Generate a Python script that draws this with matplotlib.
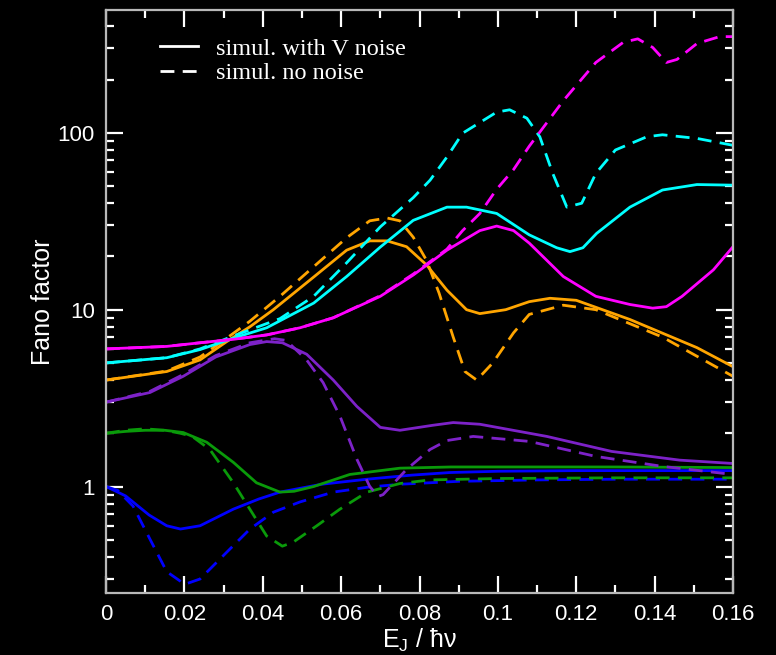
import matplotlib
matplotlib.use("Agg")
import matplotlib.pyplot as plt
from matplotlib.lines import Line2D
from matplotlib.ticker import LogLocator, FixedLocator, NullFormatter, MultipleLocator

# ---------------- data ----------------
blue_sol_x = [0, 0.005, 0.011, 0.0155, 0.019, 0.024, 0.0325, 0.039, 0.0444, 0.055, 0.0666, 0.078, 0.0878, 0.10, 0.12, 0.14, 0.16]
blue_sol_y = [1.0, 0.885, 0.69, 0.60, 0.575, 0.60, 0.745, 0.85, 0.93, 1.03, 1.10, 1.16, 1.20, 1.22, 1.23, 1.23, 1.23]
blue_dash_x = [0, 0.003, 0.0069, 0.0112, 0.0155, 0.0201, 0.024, 0.0308, 0.0367, 0.0427, 0.0495, 0.058, 0.0666, 0.075, 0.09, 0.11, 0.13, 0.16]
blue_dash_y = [1.0, 0.95, 0.775, 0.505, 0.33, 0.28, 0.30, 0.425, 0.574, 0.716, 0.818, 0.93, 0.99, 1.03, 1.07, 1.09, 1.10, 1.10]

green_sol_x = [0, 0.005, 0.01, 0.015, 0.0197, 0.0257, 0.0325, 0.0384, 0.0444, 0.048, 0.053, 0.0622, 0.075, 0.088, 0.10, 0.13, 0.16]
green_sol_y = [2.0, 2.05, 2.08, 2.08, 2.02, 1.78, 1.37, 1.05, 0.93, 0.94, 1.0, 1.17, 1.27, 1.29, 1.29, 1.29, 1.28]
green_dash_x = [0, 0.005, 0.01, 0.015, 0.019, 0.022, 0.0265, 0.0325, 0.0367, 0.041, 0.045, 0.0478, 0.0538, 0.0597, 0.0666, 0.075, 0.0827, 0.10, 0.13, 0.16]
green_dash_y = [2.0, 2.08, 2.12, 2.08, 2.0, 1.92, 1.62, 1.05, 0.745, 0.525, 0.46, 0.485, 0.60, 0.745, 0.93, 1.04, 1.09, 1.11, 1.12, 1.12]

purple_sol_x = [0, 0.0112, 0.0197, 0.028, 0.0367, 0.041, 0.045, 0.0512, 0.058, 0.064, 0.07, 0.075, 0.0834, 0.0886, 0.0954, 0.1125, 0.129, 0.1464, 0.16]
purple_sol_y = [3.0, 3.4, 4.2, 5.4, 6.35, 6.6, 6.5, 5.6, 4.0, 2.84, 2.16, 2.08, 2.22, 2.3, 2.25, 1.92, 1.58, 1.41, 1.35]
purple_dash_x = [0, 0.0112, 0.0197, 0.028, 0.0367, 0.043, 0.046, 0.0512, 0.0554, 0.0597, 0.064, 0.0673, 0.0695, 0.0707, 0.0767, 0.0827, 0.087, 0.0937, 0.108, 0.125, 0.142, 0.16]
purple_dash_y = [3.0, 3.45, 4.3, 5.5, 6.5, 6.85, 6.7, 5.2, 3.87, 2.5, 1.43, 1.0, 0.88, 0.9, 1.25, 1.62, 1.82, 1.92, 1.8, 1.48, 1.30, 1.17]

orange_sol_x = [0, 0.0155, 0.024, 0.0308, 0.0367, 0.0427, 0.053, 0.0614, 0.0673, 0.0717, 0.0767, 0.0818, 0.087, 0.092, 0.0954, 0.102, 0.108, 0.1133, 0.12, 0.1337, 0.1508, 0.16]
orange_sol_y = [4.0, 4.47, 5.2, 6.6, 8.0, 10.0, 15.3, 21.7, 24.5, 24.5, 22.7, 17.9, 12.9, 10.0, 9.5, 10.0, 11.1, 11.6, 11.3, 8.8, 6.1, 4.76]
orange_dash_x = [0, 0.0155, 0.024, 0.0308, 0.0367, 0.0444, 0.053, 0.0614, 0.0673, 0.0717, 0.075, 0.0784, 0.0818, 0.085, 0.0886, 0.0916, 0.0946, 0.0987, 0.104, 0.108, 0.1167, 0.125, 0.142, 0.16]
orange_dash_y = [4.0, 4.5, 5.4, 6.9, 8.6, 11.9, 17.5, 25.5, 31.8, 33.0, 31.8, 25.7, 19.0, 12.4, 7.0, 4.47, 4.0, 5.0, 7.4, 9.4, 10.6, 10.0, 7.0, 4.2]

cyan_sol_x = [0, 0.0155, 0.024, 0.0325, 0.041, 0.053, 0.0614, 0.07, 0.0784, 0.087, 0.092, 0.0997, 0.108, 0.115, 0.1184, 0.1217, 0.1252, 0.1337, 0.142, 0.1508, 0.16]
cyan_sol_y = [5.0, 5.35, 5.95, 6.9, 7.9, 10.9, 15.4, 22.6, 32, 38, 38, 35, 26.5, 22.4, 21.3, 22.4, 27, 38, 47.5, 51, 50.6]
cyan_dash_x = [0, 0.0155, 0.024, 0.0325, 0.0444, 0.053, 0.0614, 0.07, 0.0784, 0.0827, 0.087, 0.091, 0.0997, 0.103, 0.1074, 0.1107, 0.114, 0.1176, 0.1214, 0.125, 0.130, 0.138, 0.142, 0.1508, 0.16]
cyan_dash_y = [5.0, 5.35, 6.0, 7.1, 8.9, 11.9, 18.4, 29.4, 43, 54, 73, 99.5, 131, 135, 121, 95, 59, 38, 40, 59, 80, 95, 97.5, 93, 85]

magenta_sol_x = [0, 0.0155, 0.024, 0.0325, 0.041, 0.0495, 0.058, 0.07, 0.0784, 0.087, 0.0954, 0.0997, 0.104, 0.108, 0.1167, 0.125, 0.1337, 0.1395, 0.143, 0.147, 0.155, 0.16]
magenta_sol_y = [6.0, 6.2, 6.5, 6.8, 7.2, 7.9, 9.0, 11.9, 15.7, 21.7, 28, 29.7, 28, 23.8, 15.4, 11.9, 10.7, 10.2, 10.4, 11.9, 16.8, 22.7]
magenta_dash_x = [0, 0.0155, 0.024, 0.0325, 0.041, 0.0495, 0.058, 0.07, 0.0784, 0.087, 0.091, 0.0954, 0.0997, 0.104, 0.108, 0.1167, 0.125, 0.132, 0.1357, 0.1395, 0.143, 0.1457, 0.1508, 0.1566, 0.16]
magenta_dash_y = [6.0, 6.2, 6.5, 6.8, 7.2, 7.9, 9.0, 12.0, 15.9, 22, 28, 35, 48, 62, 84, 152, 250, 325, 340, 304, 250, 260, 320, 350, 350]

series = [
    ("blue", "#0000ff", blue_sol_x, blue_sol_y, blue_dash_x, blue_dash_y),
    ("green", "#0a9a0a", green_sol_x, green_sol_y, green_dash_x, green_dash_y),
    ("purple", "#7d22c8", purple_sol_x, purple_sol_y, purple_dash_x, purple_dash_y),
    ("orange", "#ffa500", orange_sol_x, orange_sol_y, orange_dash_x, orange_dash_y),
    ("cyan", "#00ffff", cyan_sol_x, cyan_sol_y, cyan_dash_x, cyan_dash_y),
    ("magenta", "#ff00ff", magenta_sol_x, magenta_sol_y, magenta_dash_x, magenta_dash_y),
]

legend_labels = ["simul. with V noise", "simul. no noise"]
x_ticks = [0, 0.02, 0.04, 0.06, 0.08, 0.1, 0.12, 0.14, 0.16]
x_ticklabels = ["0", "0.02", "0.04", "0.06", "0.08", "0.1", "0.12", "0.14", "0.16"]
y_ticks = [1, 10, 100]
y_ticklabels = ["1", "10", "100"]

# ---------------- figure ----------------
plt.rcParams["font.family"] = ["Liberation Sans", "DejaVu Sans"]
fig = plt.figure(figsize=(7.76, 6.55), dpi=100, facecolor="black")
ax = fig.add_axes([106 / 776, 1 - 593 / 655, (733 - 106) / 776, (593 - 10) / 655])
ax.set_facecolor("black")

LW = 2.0
DASH = (5, 3)
for name, col, sx, sy, dx, dy in series:
    ax.plot(sx, sy, color=col, lw=LW, solid_joinstyle="round")
    ax.plot(dx, dy, color=col, lw=LW, dashes=DASH)

ax.set_yscale("log")
ax.set_xlim(0, 0.16)
ax.set_ylim(0.25, 495)

ax.xaxis.set_major_locator(FixedLocator(x_ticks))
ax.set_xticklabels(x_ticklabels)
ax.xaxis.set_minor_locator(MultipleLocator(0.01))
ax.yaxis.set_major_locator(FixedLocator(y_ticks))
ax.set_yticklabels(y_ticklabels)
ax.yaxis.set_minor_locator(LogLocator(base=10, subs=range(2, 10)))
ax.yaxis.set_minor_formatter(NullFormatter())

ax.tick_params(which="both", direction="in", top=True, right=True, colors="white",
               labelcolor="white", width=1.6)
ax.tick_params(which="major", length=12, labelsize=16, pad=8)
ax.tick_params(which="minor", length=6)
for sp in ax.spines.values():
    sp.set_color("#b8b8b8")
    sp.set_linewidth(1.6)

ax.set_ylabel("Fano factor", color="white", fontsize=18, labelpad=2)
ax.set_xlabel(r"E$_\mathregular{J}$ / ħν", color="white", fontsize=18, labelpad=1)

handles = [Line2D([], [], color="white", lw=LW),
           Line2D([], [], color="white", lw=LW, dashes=DASH)]
leg = ax.legend(handles, legend_labels, loc="upper left", bbox_to_anchor=(0.052, 0.99),
                frameon=False, handlelength=1.55, handletextpad=0.75, labelspacing=0.1,
                prop={"family": "Liberation Serif", "size": 17.5})
for t in leg.get_texts():
    t.set_color("white")

fig.savefig("out.png", dpi=100, facecolor="black")
